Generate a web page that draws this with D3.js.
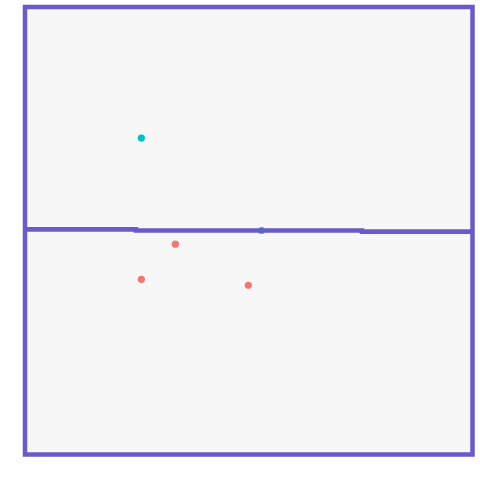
<!DOCTYPE html>
<html><head><meta charset="utf-8">
<script src="https://cdn.jsdelivr.net/npm/d3@7"></script>
<style>body{margin:0;background:#fff}</style>
</head><body>
<script>
// data
const groupA_x = [2.60, 5.285];
const groupA_y = [7.07, 5.006];
const groupB_x = [3.36, 2.60, 4.99];
const groupB_y = [4.70, 3.915, 3.78];
const step_x = [0, 2.48, 7.53, 10];
const step_y = [5.03, 5.006, 4.98, 4.98];

const W = 480, H = 480;
const svg = d3.select("body").append("svg").attr("width", W).attr("height", H);
const x = d3.scaleLinear().domain([0, 10]).range([25, 472.5]);
const y = d3.scaleLinear().domain([0, 10]).range([454.5, 7]);

svg.append("rect").attr("x", x(0)).attr("y", y(10))
  .attr("width", x(10) - x(0)).attr("height", y(0) - y(10))
  .attr("fill", "#f7f7f7");

const ptsA = groupA_x.map((v, i) => ({x: v, y: groupA_y[i]}));
const ptsB = groupB_x.map((v, i) => ({x: v, y: groupB_y[i]}));

svg.append("g").selectAll("circle").data(ptsA).join("circle")
  .attr("cx", d => x(d.x)).attr("cy", d => y(d.y)).attr("r", 3.6)
  .attr("fill", "#00bfc4");
svg.append("g").selectAll("circle").data(ptsB).join("circle")
  .attr("cx", d => x(d.x)).attr("cy", d => y(d.y)).attr("r", 3.6)
  .attr("fill", "#f8766d");

const line = d3.line().x(d => x(d[0])).y(d => y(d[1])).curve(d3.curveStepAfter);
svg.append("path").datum(step_x.map((v, i) => [v, step_y[i]]))
  .attr("d", line).attr("fill", "none").attr("stroke", "#6a5acd").attr("stroke-width", 4.6);

svg.append("rect").attr("x", x(0)).attr("y", y(10))
  .attr("width", x(10) - x(0)).attr("height", y(0) - y(10))
  .attr("fill", "none").attr("stroke", "#6a5acd").attr("stroke-width", 4.5);
</script>
</body></html>
